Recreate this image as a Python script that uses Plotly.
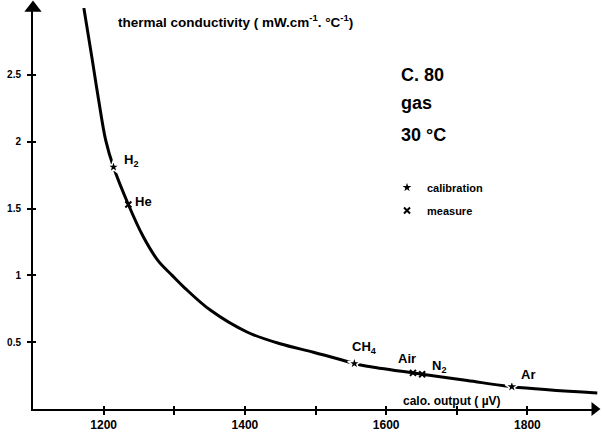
import plotly.graph_objects as go

# curve (calo. output in µV, thermal conductivity)
curve_x = [1172, 1184, 1193, 1203, 1214, 1235, 1256, 1277, 1297, 1315, 1351, 1403,
           1450, 1497, 1535, 1555, 1573, 1638, 1651, 1715, 1778, 1899]
curve_y = [3.00, 2.61, 2.31, 2.01, 1.81, 1.53, 1.29, 1.11, 1.00, 0.905, 0.74, 0.576,
           0.488, 0.425, 0.37, 0.34, 0.32, 0.27, 0.26, 0.213, 0.167, 0.12]

calib_names = ["H<sub>2</sub>", "CH<sub>4</sub>", "Ar"]
calib_x = [1214, 1555, 1778]
calib_y = [1.81, 0.34, 0.167]

meas_names = ["He", "Air", "N<sub>2</sub>"]
meas_x = [1235, 1638, 1651]
meas_y = [1.53, 0.27, 0.26]

x_ticks = [1200, 1300, 1400, 1500, 1600, 1700, 1800]
x_ticktext = ["1200", "", "1400", "", "1600", "", "1800"]
y_ticks = [0.5, 1, 1.5, 2, 2.5]
y_ticktext = ["0.5", "1", "1.5", "2", "2.5"]

# label offsets (pixels) for each gas label
calib_shift = [(17, 7), (10, 16), (16, 12)]
meas_shift = [(15, 3), (-6, 14), (17, 8)]

FONT = "Liberation Sans, Arial, sans-serif"

fig = go.Figure()
fig.add_trace(go.Scatter(x=curve_x, y=curve_y, mode="lines",
                         line=dict(color="black", width=3, shape="spline", smoothing=1.0),
                         showlegend=False, hoverinfo="skip"))
fig.add_trace(go.Scatter(x=calib_x, y=calib_y, mode="markers", name="calibration",
                         marker=dict(symbol="star", size=10, color="black",
                                     line=dict(color="white", width=1.5)),
                         legendgroup="a"))
fig.add_trace(go.Scatter(x=meas_x, y=meas_y, mode="markers", name="measure",
                         marker=dict(symbol="x-thin", size=6, color="black",
                                     line=dict(color="black", width=2)),
                         legendgroup="b"))
# arrowheads at the ends of axes
fig.add_trace(go.Scatter(x=[1100], y=[3.0], mode="markers", showlegend=False,
                         marker=dict(symbol="triangle-up", size=15, color="black"),
                         cliponaxis=False, hoverinfo="skip"))
fig.add_trace(go.Scatter(x=[1895], y=[0], mode="markers", showlegend=False,
                         marker=dict(symbol="triangle-right", size=12, color="black"),
                         cliponaxis=False, hoverinfo="skip"))

ann = []
for n, x, y, (dx, dy) in zip(calib_names, calib_x, calib_y, calib_shift):
    ann.append(dict(x=x, y=y, text="<b>%s</b>" % n, showarrow=False, xshift=dx, yshift=dy,
                    font=dict(size=13, family=FONT, color="black")))
for n, x, y, (dx, dy) in zip(meas_names, meas_x, meas_y, meas_shift):
    ann.append(dict(x=x, y=y, text="<b>%s</b>" % n, showarrow=False, xshift=dx, yshift=dy,
                    font=dict(size=13, family=FONT, color="black")))

def paper_ann(px, py, text, size, anchor="left"):
    return dict(xref="paper", yref="paper", x=(px - 33) / 565, y=(409 - py) / 401,
                text=text, showarrow=False, xanchor=anchor, yanchor="middle",
                font=dict(size=size, family=FONT, color="black"))

ann.append(paper_ann(116, 21, "<b>thermal conductivity ( mW.cm<sup>-1</sup>. °C<sup>-1</sup>)</b>", 13.5))
ann.append(paper_ann(399, 75, "<b>C. 80</b>", 18))
ann.append(paper_ann(399, 103, "<b>gas</b>", 18))
ann.append(paper_ann(399, 135, "<b>30 °C</b>", 18))
ann.append(paper_ann(401, 401, "<b>calo. output ( µV)</b>", 12))

fig.update_layout(
    width=602, height=432,
    margin=dict(l=33, r=4, t=8, b=23, autoexpand=False),
    paper_bgcolor="white", plot_bgcolor="white",
    font=dict(family=FONT, color="black"),
    annotations=ann,
    legend=dict(x=(387 - 33) / 565, y=(409 - 173) / 401, xanchor="left", yanchor="top",
                font=dict(size=11, family=FONT, weight="bold", color="black"),
                bgcolor="rgba(0,0,0,0)", tracegroupgap=4, itemwidth=30),
    xaxis=dict(range=[1100, 1900], showgrid=False, zeroline=False, showline=True,
               automargin=False,
               linecolor="black", linewidth=2, tickvals=x_ticks, ticktext=x_ticktext,
               ticks="outside", ticklen=4, tickwidth=2, tickcolor="black",
               tickfont=dict(size=12, family=FONT, weight="bold")),
    yaxis=dict(range=[0, 3.0], showgrid=False, zeroline=False, showline=True,
               automargin=False, ticklabelstandoff=4,
               linecolor="black", linewidth=2, tickvals=y_ticks, ticktext=y_ticktext,
               ticks="outside", ticklen=4, tickwidth=2, tickcolor="black",
               tickfont=dict(size=10, family=FONT, weight="bold")),
    xaxis2=dict(range=[1100, 1900], overlaying="x", showgrid=False, zeroline=False,
                automargin=False,
                tickvals=x_ticks, showticklabels=False, ticks="inside", ticklen=3,
                tickwidth=2, tickcolor="black"),
    yaxis2=dict(range=[0, 3.0], overlaying="y", showgrid=False, zeroline=False,
                automargin=False,
                tickvals=y_ticks, showticklabels=False, ticks="inside", ticklen=3,
                tickwidth=2, tickcolor="black"),
)
fig.add_trace(go.Scatter(x=[None], y=[None], xaxis="x2", yaxis="y2", showlegend=False))

fig.write_html("out.html", config={"displayModeBar": False},
               post_script="document.body.style.margin='0';document.body.style.padding='0';")
